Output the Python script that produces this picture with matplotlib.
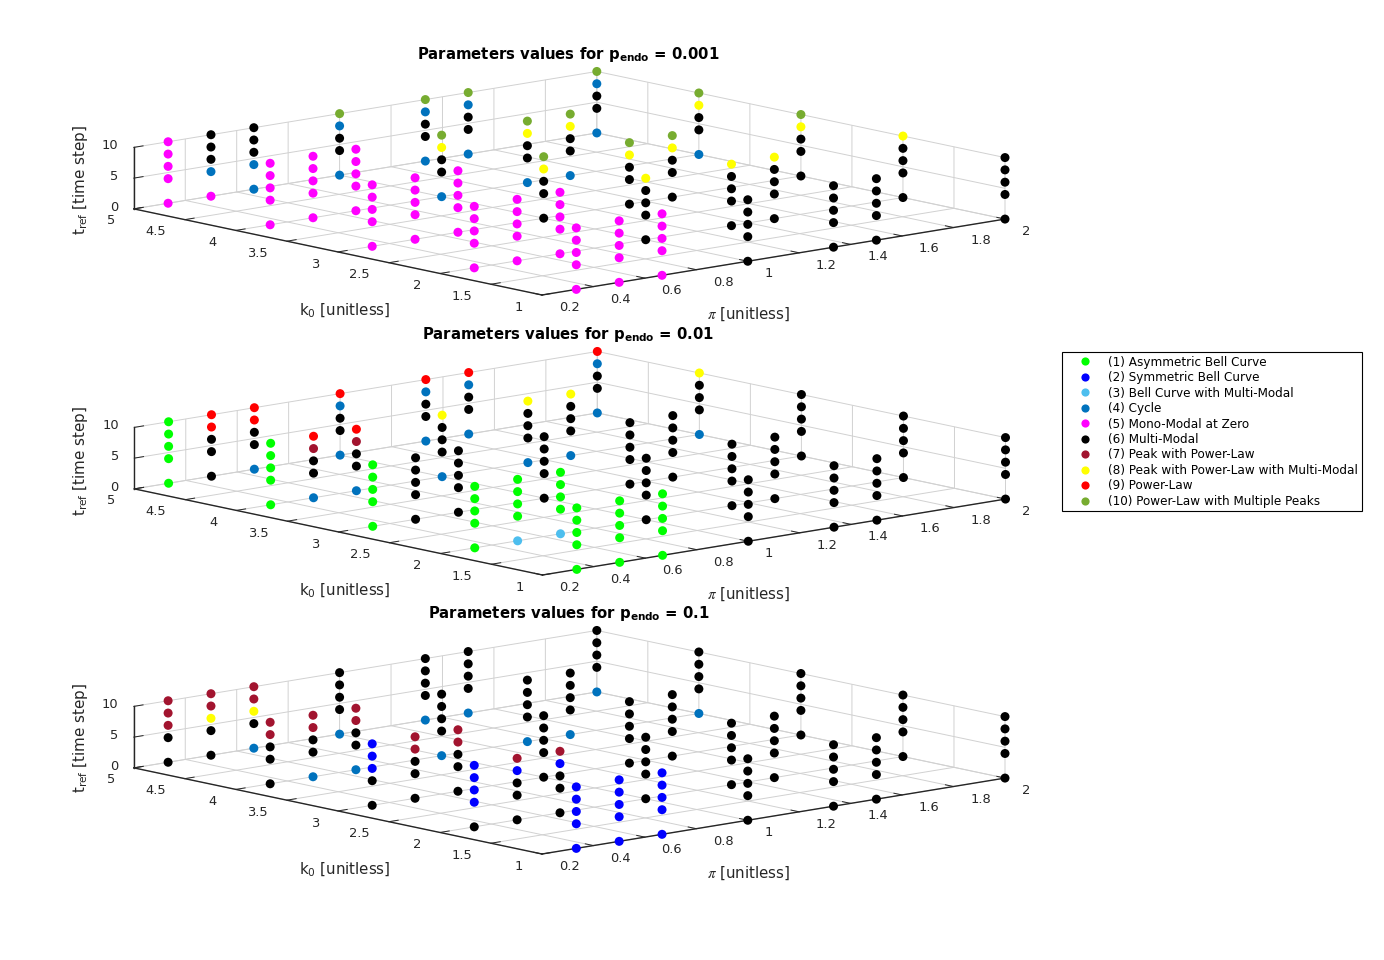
import matplotlib
matplotlib.use("Agg")
import matplotlib.pyplot as plt
from matplotlib.lines import Line2D
from mpl_toolkits.mplot3d import proj3d

plt.rcParams['font.family'] = ['DejaVu Sans']
plt.rcParams['mathtext.fontset'] = 'dejavusans'

W, H = 1384, 960
PI_VALUES = [1/3, 1/2, 2/3, 1, 4/3, 3/2, 2]
K0_VALUES = [1, 2, 3, 4, 5]
TREF_VALUES = [0, 4, 6, 8, 10]

CLASS_NAMES = ['(1) Asymmetric Bell Curve', '(2) Symmetric Bell Curve',
               '(3) Bell Curve with Multi-Modal', '(4) Cycle',
               '(5) Mono-Modal at Zero', '(6) Multi-Modal',
               '(7) Peak with Power-Law',
               '(8) Peak with Power-Law with Multi-Modal',
               '(9) Power-Law', '(10) Power-Law with Multiple Peaks']
CLASS_COLORS = ['#00FF00', '#0000FF', '#4DBEEE', '#0072BD', '#FF00FF',
                '#000000', '#A2142F', '#FFFF00', '#FF0000', '#77AC30']

A, B, C, D, E, F = [1]*5, [2]*5, [5]*5, [6]*5, [6,6,6,6,8], [6,6,6,8,10]
# rows: k0 = 1..5, columns: pi values, entries: class per tref value
CLASSES_P001 = [
    [C, C, C, D, D, D, D],
    [C, C, C, E, E, E, E],
    [C, C, C, F, F, F, F],
    [C, C, C, [4,6,6,8,10], [4,6,6,8,10], [4,6,6,8,10], [4,6,6,8,10]],
    [C, [5,4,6,6,6], [4,4,6,6,6], [4,6,6,4,10], [4,6,6,4,10], [4,6,6,4,10], [4,6,6,4,10]],
]
CLASSES_P01 = [
    [A, A, A, D, D, D, D],
    [A, [3,1,1,1,1], [3,1,1,1,1], D, D, D, D],
    [A, D, D, D, D, D, D],
    [A, [4,6,6,7,9], [4,6,6,7,9], [4,6,6,6,8], [4,6,6,6,8], [4,6,6,6,8], [4,6,6,6,8]],
    [A, [6,6,6,9,9], [4,6,6,9,9], [4,6,6,4,9], [4,6,6,4,9], [4,6,6,4,9], [4,6,6,4,9]],
]
CLASSES_P1 = [
    [B, B, B, D, D, D, D],
    [[6,2,2,2,2], [6,6,6,2,7], [6,6,6,2,7], D, D, D, D],
    [[6,6,2,2,2], [6,6,6,7,7], [6,6,6,7,7], D, D, D, D],
    [[6,6,6,7,7], [4,6,6,7,7], [4,6,6,7,7], [4,6,6,6,6], [4,6,6,6,6], [4,6,6,6,6], [4,6,6,6,6]],
    [[6,6,7,7,7], [6,6,8,7,7], [4,6,8,7,7], [4,6,6,6,6], [4,6,6,6,6], [4,6,6,6,6], [4,6,6,6,6]],
]

X_TICKS = [0.2, 0.4, 0.6, 0.8, 1, 1.2, 1.4, 1.6, 1.8, 2]
X_LABELS = ['0.2', '0.4', '0.6', '0.8', '1', '1.2', '1.4', '1.6', '1.8', '2']
Y_TICKS = [1, 1.5, 2, 2.5, 3, 3.5, 4, 4.5, 5]
Y_LABELS = ['1', '1.5', '2', '2.5', '3', '3.5', '4', '4.5', '5']
Z_TICKS = [0, 5, 10]
Z_LABELS = ['0', '5', '10']

P_LABELS = ['0.001', '0.01', '0.1']
PANEL_CLASSES = [CLASSES_P001, CLASSES_P01, CLASSES_P1]
FRONT_X = [542, 542.5, 542]
FRONT_Y = [295, 575, 854]
Y_TITLE = [54, 334, 613.5]
Y_K0 = [311, 591, 870]
Y_PI = [314, 594, 873]
Y_TREF = [180, 461, 738]

TXT = (0.15, 0.15, 0.15)
GRID = (0.82, 0.82, 0.82)

fig = plt.figure(figsize=(W/100, H/100), dpi=100, facecolor='white')


def project(ax, x, y, z):
    ax.apply_aspect()
    px, py, _ = proj3d.proj_transform(x, y, z, ax.get_proj())
    return ax.transData.transform((px, py))


def place(ax, front_x, front_y):
    """Scale and move the square axes box so the floor's front corner and width fit."""
    side = 800.0
    ax.set_position([0.1, 0.1, side/W, side/H])
    p0 = project(ax, 0.2, 1, 0)
    p1 = project(ax, 2, 1, 0)
    side = side * 463.0 / (p1[0] - p0[0])
    ax.set_position([0.1, 0.1, side/W, side/H])
    p0 = project(ax, 0.2, 1, 0)
    ox = front_x - p0[0]
    oy = (H - front_y) - p0[1]
    ax.set_position([0.1 + ox/W, 0.1 + oy/H, side/W, side/H])


for classes, fx, fy in zip(PANEL_CLASSES, FRONT_X, FRONT_Y):
    ax = fig.add_subplot(projection='3d', proj_type='ortho')
    ax.patch.set_alpha(0)
    xs, ys, zs, cs = [], [], [], []
    for row, k0 in zip(classes, K0_VALUES):
        for column, pi_v in zip(row, PI_VALUES):
            for cls, t in zip(column, TREF_VALUES):
                xs.append(pi_v); ys.append(k0); zs.append(t)
                cs.append(CLASS_COLORS[cls-1])
    ax.scatter(xs, ys, zs, c=cs, s=42, linewidths=0, depthshade=False, clip_on=False, zorder=5)
    ax.set_xlim(0.2, 2); ax.set_ylim(1, 5); ax.set_zlim(0, 10)
    ax.view_init(elev=10.72, azim=-131.4)
    ax.set_box_aspect((1, 1, 0.1014))
    ax.set_xticks(X_TICKS, X_LABELS, ha='left')
    ax.set_yticks(Y_TICKS, Y_LABELS, ha='right')
    ax.set_zticks(Z_TICKS, [''] * len(Z_TICKS))
    for axis in (ax.xaxis, ax.yaxis, ax.zaxis):
        axis.set_pane_color((1, 1, 1, 0))
        axis.pane.set_edgecolor(GRID)
        axis.line.set_color(TXT)
        axis.line.set_linewidth(1.0)
        axis._axinfo['grid'].update(color=GRID, linewidth=0.7)
        axis._axinfo['tick'].update(inward_factor=0.0, outward_factor=0.25,
                                    linewidth={True: 0.7, False: 0.5})
    ax.xaxis.set_tick_params(colors=TXT, labelsize=9.4, pad=5)
    ax.yaxis.set_tick_params(colors=TXT, labelsize=9.4, pad=5)
    ax.zaxis.set_tick_params(colors=TXT, labelsize=9.4)
    place(ax, fx, fy)
    for t, lab in zip(Z_TICKS, Z_LABELS):
        tx, ty = project(ax, 0.2, 5, t)
        fig.text((tx - 15.5)/W, (ty + 1.5)/H, lab, ha='right', va='center', fontsize=9.4, color=TXT)

for p, yt, yk, yp, yz in zip(P_LABELS, Y_TITLE, Y_K0, Y_PI, Y_TREF):
    fig.text(568.5/W, 1 - yt/H, r'Parameters values for $\mathbf{p_{endo}}$ = ' + p,
             ha='center', va='center', fontsize=10.75, fontweight='bold', color='black')
    fig.text(345/W, 1 - yk/H, r'k$_0$ [unitless]', ha='center', va='center', fontsize=10.8, color=TXT)
    fig.text(748/W, 1 - yp/H, r'$\pi$ [unitless]', ha='center', va='center', fontsize=10.8, color=TXT,
             math_fontfamily='stix')
    fig.text(80/W, 1 - yz/H, r't$_{\mathrm{ref}}$ [time step]', ha='center', va='center', rotation=90,
             fontsize=10.9, color=TXT)

handles = [Line2D([], [], linestyle='none', marker='o', markersize=5.9, markerfacecolor=c,
                  markeredgewidth=0, label=n) for c, n in zip(CLASS_COLORS, CLASS_NAMES)]
leg = fig.legend(handles=handles, loc='upper left', bbox_to_anchor=(1062/W, 1 - 352/H),
                 borderaxespad=0, fontsize=8.68, frameon=True, fancybox=False, framealpha=1,
                 edgecolor='black', borderpad=0.3, handlelength=3.22, handletextpad=0.3,
                 labelspacing=0.205, labelcolor='black')
leg.get_frame().set_linewidth(0.8)

fig.savefig('out.png', dpi=100)
